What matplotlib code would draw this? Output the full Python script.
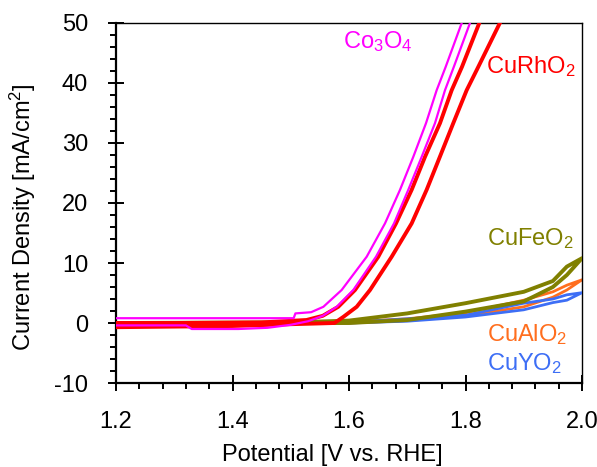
import matplotlib
matplotlib.use("Agg")
import matplotlib.pyplot as plt
from matplotlib.ticker import MultipleLocator

plt.rcParams['font.family'] = ['Liberation Sans', 'DejaVu Sans']
plt.rcParams['mathtext.fontset'] = 'custom'
plt.rcParams['mathtext.rm'] = 'Liberation Sans'
plt.rcParams['mathtext.it'] = 'Liberation Sans'
plt.rcParams['mathtext.default'] = 'regular'
plt.rcParams['axes.unicode_minus'] = False

# ---- data (V vs RHE, mA/cm2), each loop = forward branch then reverse branch ----
co3o4_v = [1.20, 1.30, 1.40, 1.505, 1.508, 1.535, 1.556, 1.5874, 1.6304, 1.6618, 1.6876, 1.7104, 1.7322, 1.7505, 1.766, 1.7935, 1.80,
           1.815, 1.8077, 1.780, 1.7648, 1.7476, 1.7248, 1.7018, 1.6773, 1.6464, 1.6074, 1.5789, 1.555, 1.53, 1.50, 1.46, 1.41, 1.33, 1.32, 1.20]
co3o4_i = [0.8, 0.8, 0.8, 0.8, 1.6, 1.8, 2.7, 5.5, 11.05, 16.6, 22.2, 27.7, 33.3, 38.8, 42.7, 50.0, 52.0,
           52.0, 50.0, 42.7, 38.8, 33.3, 27.7, 22.2, 16.6, 11.05, 5.5, 2.7, 1.2, 0.3, -0.3, -0.8, -1.0, -1.0, -0.4, -0.4]

curho2_v = [1.20, 1.30, 1.40, 1.50, 1.575, 1.59, 1.6132, 1.6361, 1.6733, 1.7076, 1.7333, 1.756, 1.779, 1.802, 1.822, 1.859, 1.87,
            1.83, 1.8237, 1.794, 1.7763, 1.7562, 1.7305, 1.7076, 1.6807, 1.6503, 1.6103, 1.5816, 1.555, 1.527, 1.45, 1.30, 1.20]
curho2_i = [-0.7, -0.6, -0.5, -0.2, 0.0, 1.0, 2.7, 5.5, 11.05, 16.6, 22.2, 27.7, 33.3, 38.8, 42.7, 50.0, 52.0,
            52.0, 50.0, 42.7, 38.8, 33.3, 27.7, 22.2, 16.6, 11.05, 5.5, 2.7, 1.2, 0.5, 0.1, 0.0, 0.0]

cufeo2_v = [1.20, 1.50, 1.60, 1.70, 1.80, 1.90, 1.95, 1.974, 2.00,
            1.974, 1.95, 1.917, 1.90, 1.80, 1.70, 1.60, 1.20]
cufeo2_i = [0.0, 0.1, 0.4, 1.6, 3.3, 5.2, 7.0, 9.4, 10.8,
            8.0, 6.0, 4.4, 3.6, 1.9, 0.5, 0.0, -0.1]

cualo2_v = [1.20, 1.60, 1.70, 1.80, 1.90, 1.95, 1.974, 2.00,
            1.974, 1.95, 1.90, 1.80, 1.70, 1.60, 1.20]
cualo2_i = [0.0, 0.2, 0.7, 1.7, 3.8, 5.2, 6.3, 7.2,
            5.5, 4.3, 2.7, 1.2, 0.4, 0.0, -0.1]

cuyo2_v = [1.20, 1.60, 1.70, 1.80, 1.90, 1.95, 1.974, 2.00,
           1.974, 1.95, 1.90, 1.80, 1.70, 1.60, 1.20]
cuyo2_i = [0.0, 0.1, 0.7, 1.3, 3.3, 4.0, 4.7, 5.05,
           3.8, 3.4, 2.2, 1.0, 0.3, 0.0, -0.1]

labels = ["Co$_3$O$_4$", "CuRhO$_2$", "CuFeO$_2$", "CuAlO$_2$", "CuYO$_2$"]
label_v = [1.589, 1.835, 1.8375, 1.8375, 1.8375]
label_i = [46.9, 42.7, 14.1, -2.0, -6.7]

colors = ["#FF00FF", "#FF0000", "#808000", "#FF6E1E", "#3D6EF5"]

fig = plt.figure(figsize=(5.97, 4.67), dpi=100)
ax = fig.add_axes([116/597, 1-383/467, 466/597, 360/467])

ax.plot(cualo2_v, cualo2_i, color=colors[3], lw=2.0, zorder=2)
ax.plot(cuyo2_v, cuyo2_i, color=colors[4], lw=2.0, zorder=3)
ax.plot(cufeo2_v, cufeo2_i, color=colors[2], lw=2.8, zorder=4)
ax.plot(curho2_v, curho2_i, color=colors[1], lw=2.8, zorder=5)
ax.plot(co3o4_v, co3o4_i, color=colors[0], lw=1.6, zorder=6)

for lab, x, y, c in zip(labels, label_v, label_i, colors):
    ax.text(x, y, lab, color=c, fontsize=17, ha='left', va='center')

ax.set_xlim(1.2, 2.0)
ax.set_ylim(-10, 50)
ax.xaxis.set_major_locator(MultipleLocator(0.2))
ax.xaxis.set_minor_locator(MultipleLocator(0.04))
ax.yaxis.set_major_locator(MultipleLocator(10))
ax.yaxis.set_minor_locator(MultipleLocator(2))
ax.set_xticks([1.2, 1.4, 1.6, 1.8, 2.0])
ax.set_xticklabels(["1.2", "1.4", "1.6", "1.8", "2.0"])

ax.tick_params(which='major', direction='inout', length=12, width=1.4, labelsize=17, color='black')
ax.tick_params(axis='x', which='major', pad=14)
ax.tick_params(axis='y', which='major', pad=14)
ax.tick_params(which='minor', direction='out', length=4.3, width=1.4)
ax.tick_params(top=False, right=False, which='both')

for s in ['left', 'bottom']:
    ax.spines[s].set_linewidth(1.6)
for s in ['top', 'right']:
    ax.spines[s].set_linewidth(1.0)

ax.set_xlabel("Potential [V vs. RHE]", fontsize=17)
ax.set_ylabel("Current Density [mA/cm$^2$]", fontsize=17)
ax.xaxis.set_label_coords(0.4635, -0.169)
ax.yaxis.set_label_coords(-0.167, 0.461)

fig.savefig("out.png", dpi=100)
